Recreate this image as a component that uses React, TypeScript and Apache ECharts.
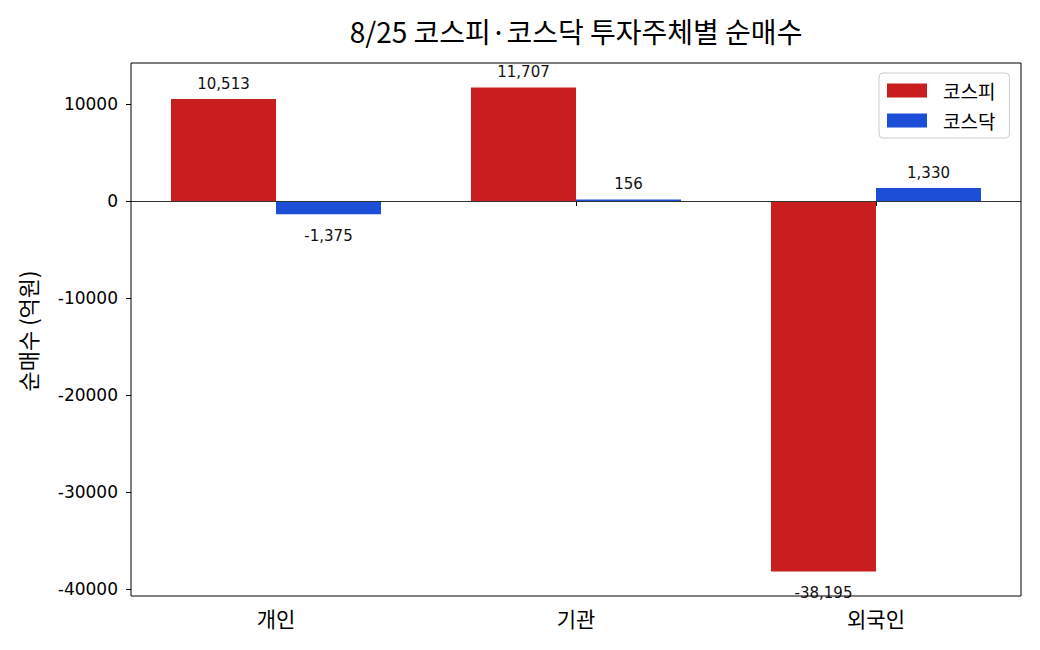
import React, { useEffect, useRef } from "react";
import * as echarts from "echarts";

const categories = ["개인", "기관", "외국인"];
const kospi = [10513, 11707, -38195];
const kosdaq = [-1375, 156, 1330];
const yTicks = [-40000, -30000, -20000, -10000, 0, 10000];
const titleText = "8/25 코스피·코스닥 투자주체별 순매수";
const yName = "순매수 (억원)";

const KR = "'Noto Sans CJK KR', 'Noto Sans', sans-serif";
const NUM = "'DejaVu Sans', sans-serif";

function fmt(v: number) {
  const s = Math.abs(v).toString().replace(/\B(?=(\d{3})+(?!\d))/g, ",");
  return (v < 0 ? "-" : "") + s;
}

function toData(arr: number[]) {
  return arr.map((v) => ({
    value: v,
    label: v < 0 ? { position: "bottom", distance: 13 } : { position: "top", distance: 6 },
  }));
}

export default function App() {
  const ref = useRef<HTMLDivElement>(null);
  useEffect(() => {
    if (!ref.current) return;
    const chart = echarts.init(ref.current, null, { renderer: "svg" });
    const labelStyle = {
      show: true,
      fontFamily: NUM,
      fontSize: 15,
      lineHeight: 18,
      color: "#111",
      formatter: (p: any) => fmt(p.value),
    };
    chart.setOption({
      animation: false,
      backgroundColor: "#fff",
      grid: { left: 126, right: 14, top: 63, bottom: 54, containLabel: false },
      legend: {
        orient: "vertical",
        left: 879,
        top: 73,
        padding: [8, 14, 8, 8],
        itemWidth: 40,
        itemHeight: 14,
        itemGap: 11,
        icon: "rect",
        borderColor: "#cccccc",
        borderWidth: 1,
        borderRadius: 4,
        backgroundColor: "#fff",
        textStyle: { fontFamily: KR, fontSize: 19, lineHeight: 18, color: "#000", padding: [0, 0, 0, 11] },
        data: ["코스피", "코스닥"],
      },
      xAxis: {
        type: "category",
        data: categories,
        axisLine: { show: false },
        axisTick: { show: true, alignWithLabel: true, length: 5, lineStyle: { color: "#000" } },
        axisLabel: { fontFamily: KR, fontSize: 21, color: "#000", margin: 11 },
        splitLine: { show: false },
      },
      yAxis: {
        type: "value",
        min: -40722,
        max: 14227,
        offset: -5,
        axisLine: { show: false },
        axisTick: { show: true, length: 5, lineStyle: { color: "#000" }, customValues: yTicks },
        axisLabel: {
          fontFamily: NUM,
          fontSize: 17,
          color: "#000",
          margin: 13,
          customValues: yTicks,
          formatter: (v: number) => String(v),
        },
        splitLine: { show: false },
      },
      series: [
        {
          name: "코스피",
          type: "bar",
          data: toData(kospi),
          barWidth: 105,
          barGap: "0%",
          itemStyle: { color: "#C81E1E" },
          label: labelStyle,
          markLine: {
            silent: true,
            symbol: "none",
            label: { show: false },
            lineStyle: { color: "#333", width: 1, type: "solid" },
            data: [[{ x: 131, yAxis: 0 }, { x: 1021, yAxis: 0 }]],
          },
        },
        {
          name: "코스닥",
          type: "bar",
          data: toData(kosdaq),
          barWidth: 105,
          barGap: "0%",
          itemStyle: { color: "#1D4ED8" },
          label: labelStyle,
        },
      ],
      graphic: [
        {
          type: "rect",
          shape: { x: 131, y: 63, width: 890, height: 533 },
          style: { fill: "none", stroke: "#000", lineWidth: 1 },
          z: 100,
          silent: true,
        },
        {
          type: "text",
          x: 576,
          y: 31,
          style: {
            text: titleText,
            fontFamily: KR,
            fontSize: 28,
            fill: "#000",
            textAlign: "center",
            textVerticalAlign: "middle",
          },
        },
        {
          type: "text",
          x: 27,
          y: 331,
          rotation: Math.PI / 2,
          style: {
            text: yName,
            fontFamily: KR,
            fontSize: 22,
            fill: "#000",
            textAlign: "center",
            textVerticalAlign: "middle",
          },
        },
      ],
    });
    return () => chart.dispose();
  }, []);
  return (
    <div
      ref={ref}
      style={{ position: "fixed", left: 0, top: 0, width: 1040, height: 650, background: "#fff" }}
    />
  );
}
